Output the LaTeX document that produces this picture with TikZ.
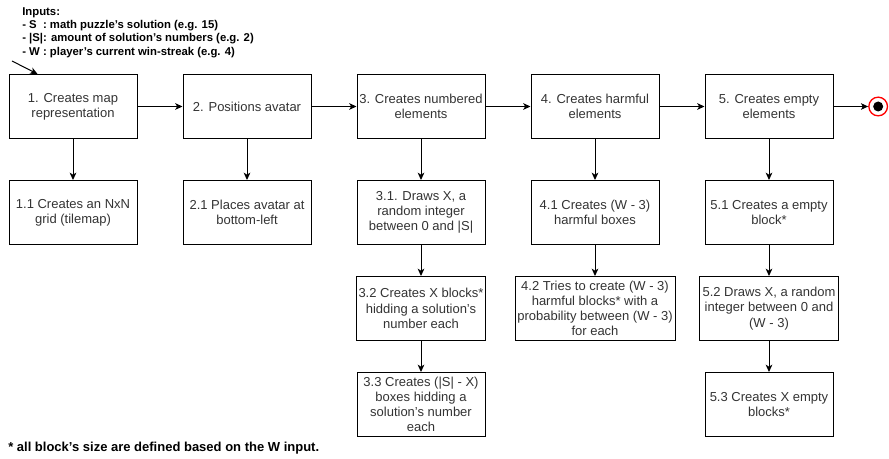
\documentclass[tikz,border=0pt]{standalone}
\usepackage{fontspec}
\setmainfont{Liberation Sans}
\usepackage{tikz}
\usetikzlibrary{arrows.meta,positioning}
\definecolor{txtgray}{HTML}{333333}

\begin{document}
\begin{tikzpicture}[x=0.75pt, y=-0.75pt,
    task/.style={rectangle, draw, line width=0.75pt, minimum width=96pt, minimum height=48pt, inner sep=1.5pt, align=center, text=txtgray, font=\fontsize{9.75}{11.4}\selectfont},
    note/.style={inner sep=0pt, align=left, font=\fontsize{8.5}{10}\selectfont\bfseries},
    arrow/.style={-{Stealth[length=5.5pt, width=5pt, inset=1.5pt]}, line width=0.75pt}
  ]
    \useasboundingbox (0,0) rectangle (889,459);
    \node[note, anchor=north west] (inputs) at (22,7) {Inputs:\\- S~ : math puzzle's solution (e.g. 15)\\- |S|: amount of solution's numbers (e.g. 2)\\- W : player's current win-streak (e.g. 4)};
    \node[task] (a) at (73,106.5) {1. Creates map\\representation};
    \node[task, right=33.75pt of a] (b) {2. Positions avatar};
    \node[task, right=33.75pt of b] (c) {3. Creates numbered\\elements};
    \node[task, right=33.75pt of c] (d) {4. Creates harmful\\elements};
    \node[task, right=33.75pt of d] (e) {5. Creates empty\\elements};
    \node[circle, draw=red, line width=1pt, fill=white, minimum size=14pt, inner sep=0pt, right=26pt of e] (z) {};
    \node[circle, fill=black, minimum size=7.5pt, inner sep=0pt] (zdot) at (z) {};
    \node[task, below=30.75pt of a] (a1) {1.1 Creates an NxN\\grid (tilemap)};
    \node[task, below=30.75pt of b] (b1) {2.1 Places avatar at\\bottom-left};
    \node[task, below=30.75pt of c] (c1) {3.1. Draws X, a\\random integer\\between 0 and |S|};
    \node[task, below=23.25pt of c1] (c2) {3.2 Creates X blocks*\\hidding a solution's\\number each};
    \node[task, below=23.25pt of c2] (c3) {3.3 Creates (|S| - X)\\boxes hidding a\\solution's number\\each};
    \node[task, below=30.75pt of d] (d1) {4.1 Creates (W - 3)\\harmful boxes};
    \node[task, minimum width=120pt, below=23.25pt of d1] (d2) {4.2 Tries to create (W - 3)\\harmful blocks* with a\\probability between (W - 3)\\for each};
    \node[task, below=30.75pt of e] (e1) {5.1 Creates a empty\\block*};
    \node[task, minimum width=104pt, below=23.25pt of e1] (e2) {5.2 Draws X, a random\\integer between 0 and\\(W - 3)};
    \node[task, below=23.25pt of e2] (e3) {5.3 Creates X empty\\blocks*};
    \node[note, anchor=west, font=\fontsize{9.75}{11}\selectfont\bfseries] (foot) at (8,448) {* all block's size are defined based on the W input.};
    \coordinate (instart) at (12,61);
    \draw[arrow] (instart) -- ([xshift=21.75pt]a.north west);
    \draw[arrow] (a) -- (b);
    \draw[arrow] (b) -- (c);
    \draw[arrow] (c) -- (d);
    \draw[arrow] (d) -- (e);
    \draw[arrow] (e) -- (z);
    \draw[arrow] (a) -- (a1);
    \draw[arrow] (b) -- (b1);
    \draw[arrow] (c) -- (c1);
    \draw[arrow] (c1) -- (c2);
    \draw[arrow] (c2) -- (c3);
    \draw[arrow] (d) -- (d1);
    \draw[arrow] (d1) -- (d2);
    \draw[arrow] (e) -- (e1);
    \draw[arrow] (e1) -- (e2);
    \draw[arrow] (e2) -- (e3);
  \end{tikzpicture}
\end{document}
